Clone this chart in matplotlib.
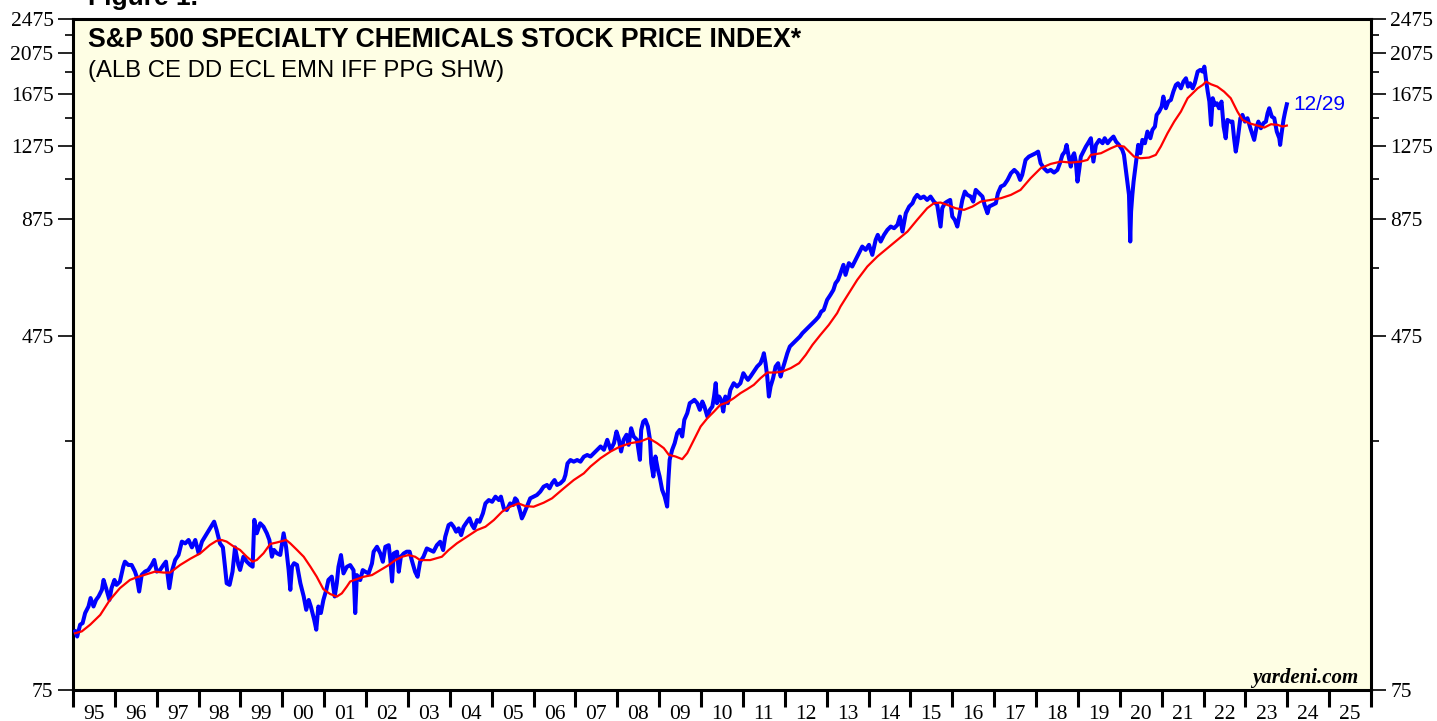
import numpy as np
import matplotlib
matplotlib.use("Agg")
import matplotlib.pyplot as plt
from matplotlib.ticker import FixedLocator, NullFormatter

# S&P 500 specialty chemicals index (daily) -- decimal year, index level
blue_t = [
    1995.05, 1995.10, 1995.17, 1995.23, 1995.29, 1995.37, 1995.42, 1995.49, 1995.55, 1995.61,
    1995.69, 1995.73, 1995.79, 1995.87, 1995.92, 1995.99, 1996.04, 1996.12, 1996.20, 1996.24,
    1996.32, 1996.40, 1996.48, 1996.52, 1996.58, 1996.64, 1996.72, 1996.80, 1996.88, 1996.94,
    1997.00, 1997.08, 1997.16, 1997.22, 1997.30, 1997.36, 1997.44, 1997.52, 1997.60, 1997.68,
    1997.76, 1997.84, 1997.92, 1998.00, 1998.08, 1998.20, 1998.27, 1998.37, 1998.43, 1998.51,
    1998.58, 1998.63, 1998.67, 1998.74, 1998.81, 1998.87, 1998.95, 1998.99, 1999.07, 1999.15,
    1999.23, 1999.29, 1999.33, 1999.39, 1999.47, 1999.55, 1999.63, 1999.69, 1999.75, 1999.80,
    1999.87, 1999.95, 2000.03, 2000.09, 2000.15, 2000.19, 2000.23, 2000.28, 2000.35, 2000.43,
    2000.51, 2000.57, 2000.63, 2000.68, 2000.76, 2000.81, 2000.86, 2000.92, 2000.98, 2001.05,
    2001.10, 2001.18, 2001.25, 2001.30, 2001.34, 2001.40, 2001.46, 2001.54, 2001.62, 2001.70,
    2001.74, 2001.78, 2001.86, 2001.92, 2001.98, 2002.06, 2002.14, 2002.18, 2002.26, 2002.34,
    2002.40, 2002.46, 2002.54, 2002.58, 2002.62, 2002.66, 2002.74, 2002.78, 2002.83, 2002.90,
    2002.97, 2003.04, 2003.09, 2003.17, 2003.23, 2003.29, 2003.37, 2003.45, 2003.53, 2003.61,
    2003.69, 2003.77, 2003.84, 2003.89, 2003.97, 2004.03, 2004.09, 2004.15, 2004.21, 2004.27,
    2004.33, 2004.41, 2004.47, 2004.53, 2004.58, 2004.65, 2004.71, 2004.79, 2004.85, 2004.93,
    2005.01, 2005.09, 2005.17, 2005.22, 2005.29, 2005.36, 2005.44, 2005.51, 2005.56, 2005.60,
    2005.67, 2005.72, 2005.76, 2005.84, 2005.92, 2006.00, 2006.08, 2006.16, 2006.24, 2006.32,
    2006.38, 2006.44, 2006.50, 2006.56, 2006.64, 2006.72, 2006.76, 2006.81, 2006.88, 2006.96,
    2007.04, 2007.12, 2007.20, 2007.28, 2007.36, 2007.44, 2007.52, 2007.60, 2007.68, 2007.76,
    2007.84, 2007.92, 2007.98, 2008.03, 2008.09, 2008.15, 2008.22, 2008.27, 2008.33, 2008.39,
    2008.47, 2008.54, 2008.57, 2008.62, 2008.67, 2008.73, 2008.78, 2008.81, 2008.86, 2008.91,
    2008.97, 2009.01, 2009.07, 2009.13, 2009.19, 2009.22, 2009.25, 2009.31, 2009.37, 2009.43,
    2009.49, 2009.55, 2009.60, 2009.67, 2009.73, 2009.79, 2009.84, 2009.91, 2009.97, 2010.03,
    2010.08, 2010.15, 2010.21, 2010.27, 2010.31, 2010.35, 2010.38, 2010.43, 2010.48, 2010.53,
    2010.58, 2010.64, 2010.70, 2010.78, 2010.86, 2010.94, 2011.01, 2011.06, 2011.12, 2011.18,
    2011.26, 2011.34, 2011.42, 2011.48, 2011.50, 2011.54, 2011.58, 2011.62, 2011.66, 2011.72,
    2011.78, 2011.84, 2011.90, 2011.94, 2011.99, 2012.06, 2012.12, 2012.20, 2012.28, 2012.36,
    2012.42, 2012.50, 2012.58, 2012.66, 2012.74, 2012.81, 2012.87, 2012.93, 2013.01, 2013.09,
    2013.16, 2013.21, 2013.27, 2013.33, 2013.40, 2013.45, 2013.53, 2013.61, 2013.69, 2013.77,
    2013.85, 2013.93, 2014.01, 2014.09, 2014.17, 2014.22, 2014.29, 2014.37, 2014.45, 2014.53,
    2014.61, 2014.69, 2014.75, 2014.81, 2014.89, 2014.97, 2015.05, 2015.10, 2015.16, 2015.24,
    2015.32, 2015.40, 2015.48, 2015.56, 2015.64, 2015.72, 2015.76, 2015.82, 2015.88, 2015.95,
    2016.00, 2016.06, 2016.12, 2016.18, 2016.24, 2016.30, 2016.36, 2016.44, 2016.50, 2016.56,
    2016.64, 2016.72, 2016.77, 2016.84, 2016.88, 2016.96, 2017.04, 2017.09, 2017.16, 2017.24,
    2017.32, 2017.40, 2017.48, 2017.56, 2017.62, 2017.67, 2017.75, 2017.83, 2017.91, 2017.99,
    2018.05, 2018.11, 2018.19, 2018.27, 2018.35, 2018.43, 2018.51, 2018.57, 2018.63, 2018.69,
    2018.73, 2018.78, 2018.83, 2018.87, 2018.91, 2018.95, 2018.99, 2019.03, 2019.07, 2019.13,
    2019.19, 2019.24, 2019.31, 2019.37, 2019.43, 2019.51, 2019.59, 2019.64, 2019.71, 2019.77,
    2019.85, 2019.91, 2019.98, 2020.06, 2020.10, 2020.14, 2020.18, 2020.22, 2020.25, 2020.27,
    2020.30, 2020.33, 2020.37, 2020.41, 2020.44, 2020.49, 2020.54, 2020.60, 2020.66, 2020.73,
    2020.78, 2020.84, 2020.88, 2020.94, 2021.00, 2021.04, 2021.10, 2021.16, 2021.22, 2021.28,
    2021.34, 2021.39, 2021.46, 2021.52, 2021.58, 2021.63, 2021.68, 2021.74, 2021.79, 2021.86,
    2021.92, 2021.98, 2022.02, 2022.06, 2022.10, 2022.14, 2022.18, 2022.22, 2022.27, 2022.32,
    2022.37, 2022.43, 2022.48, 2022.53, 2022.57, 2022.64, 2022.69, 2022.73, 2022.77, 2022.81,
    2022.88, 2022.93, 2022.99, 2023.05, 2023.12, 2023.17, 2023.21, 2023.27, 2023.31, 2023.37,
    2023.43, 2023.49, 2023.53, 2023.57, 2023.63, 2023.69, 2023.75, 2023.81, 2023.83, 2023.86,
    2023.91, 2023.95, 2023.99,
]
blue_v = [
    101.8, 99.1, 105.4, 106.3, 112.0, 115.9, 121.1, 115.9, 119.9, 122.1,
    126.4, 133.1, 127.5, 119.9, 127.5, 133.1, 129.7, 132.0, 142.6, 146.4,
    143.9, 143.9, 139.0, 135.4, 125.3, 136.6, 139.0, 140.2, 143.9, 147.7,
    139.0, 140.2, 143.9, 146.4, 127.5, 139.0, 147.7, 151.6, 162.5, 161.0,
    163.9, 157.7, 163.9, 152.9, 162.5, 169.7, 174.1, 180.3, 172.6, 161.0,
    157.7, 142.6, 130.8, 129.7, 139.0, 157.7, 143.9, 140.2, 150.2, 146.4,
    143.9, 142.6, 182.0, 169.7, 178.8, 175.6, 169.7, 163.9, 150.2, 155.6,
    152.9, 151.6, 169.7, 157.7, 140.2, 126.4, 142.6, 145.2, 143.9, 130.8,
    122.1, 113.9, 119.9, 115.9, 108.2, 102.7, 115.9, 112.0, 119.9, 126.4,
    133.1, 135.4, 122.1, 130.8, 142.5, 151.5, 137.7, 142.5, 143.8, 140.0,
    112.0, 136.5, 133.0, 140.1, 138.9, 137.7, 145.0, 154.2, 158.2, 152.8,
    146.3, 158.2, 159.5, 147.6, 132.0, 152.8, 154.2, 138.9, 150.2, 152.8,
    154.2, 154.2, 147.6, 138.9, 135.3, 146.3, 150.2, 156.8, 155.5, 154.2,
    159.5, 162.4, 155.5, 166.7, 177.1, 178.6, 175.6, 171.1, 174.1, 168.1,
    175.6, 180.2, 183.4, 177.1, 174.1, 181.8, 180.2, 188.3, 198.3, 201.8,
    200.0, 205.4, 201.8, 205.4, 193.2, 191.6, 198.3, 196.6, 203.6, 201.8,
    191.6, 183.4, 186.7, 194.9, 203.6, 205.4, 207.2, 210.9, 216.4, 218.3,
    214.5, 220.2, 224.0, 218.3, 220.2, 224.0, 229.9, 244.3, 248.6, 246.5,
    248.6, 246.5, 252.9, 255.2, 253.2, 257.7, 262.2, 266.8, 262.2, 276.2,
    262.2, 271.4, 288.4, 278.6, 259.9, 276.2, 283.6, 269.1, 293.4, 281.0,
    276.2, 248.9, 290.9, 303.8, 306.5, 296.1, 276.2, 244.6, 228.2, 253.2,
    236.2, 228.2, 212.9, 205.6, 195.1, 224.3, 248.9, 262.2, 271.4, 286.0,
    290.9, 281.0, 306.5, 317.3, 334.3, 337.2, 340.2, 334.3, 322.9, 337.2,
    328.6, 311.8, 322.9, 328.6, 346.1, 371.0, 334.3, 346.1, 340.2, 320.1,
    346.1, 334.3, 358.3, 371.0, 364.6, 371.0, 390.8, 384.1, 377.5, 384.1,
    394.2, 404.6, 411.7, 426.2, 433.7, 411.7, 384.1, 346.1, 364.6, 380.8,
    404.6, 411.7, 384.1, 397.6, 411.7, 433.7, 449.1, 456.9, 464.9, 473.0,
    481.3, 489.7, 498.3, 507.0, 515.9, 524.9, 538.8, 543.5, 572.6, 588.0,
    603.1, 624.4, 635.4, 658.1, 687.4, 652.4, 693.4, 681.4, 705.5, 730.4,
    756.2, 743.2, 762.9, 724.1, 782.9, 803.6, 776.1, 803.6, 824.8, 839.2,
    832.0, 846.5, 884.1, 817.7, 899.6, 931.3, 947.7, 972.7, 989.7, 972.7,
    981.2, 964.2, 981.2, 955.9, 939.5, 839.2, 923.3, 947.7, 955.9, 964.2,
    884.1, 868.9, 839.2, 899.6, 964.2, 1007.0, 989.7, 981.2, 955.9, 1015.8,
    998.3, 981.2, 939.5, 899.6, 931.3, 939.5, 947.7, 998.3, 1033.6, 1042.6,
    1070.1, 1107.9, 1127.3, 1107.9, 1070.1, 1098.3, 1187.6, 1208.3, 1218.8, 1229.4,
    1240.1, 1167.1, 1137.1, 1117.6, 1127.3, 1111.8, 1127.3, 1167.1, 1218.8, 1240.1,
    1284.0, 1208.3, 1147.0, 1208.3, 1229.4, 1177.3, 1060.9, 1127.3, 1208.3, 1240.1,
    1272.8, 1295.3, 1329.7, 1177.4, 1284.3, 1318.2, 1295.5, 1329.7, 1295.5, 1318.2,
    1341.3, 1306.7, 1284.3, 1251.3, 1219.1, 1137.4, 1061.1, 989.9, 776.3, 907.6,
    989.9, 1061.1, 1137.4, 1219.1, 1284.3, 1229.7, 1318.2, 1295.5, 1376.6, 1329.7,
    1388.7, 1413.0, 1501.5, 1527.8, 1568.0, 1651.8, 1554.4, 1609.4, 1623.5, 1695.6,
    1755.1, 1770.4, 1724.9, 1785.9, 1817.3, 1740.0, 1770.4, 1724.9, 1770.4, 1881.6,
    1897.9, 1881.6, 1931.1, 1801.5, 1695.6, 1609.4, 1425.3, 1638.0, 1581.6, 1595.4,
    1554.4, 1609.4, 1413.0, 1329.7, 1463.0, 1450.1, 1450.1, 1329.7, 1240.3, 1306.7,
    1475.8, 1501.5, 1450.1, 1475.8, 1400.7, 1352.9, 1318.2, 1413.0, 1450.1, 1400.7,
    1437.7, 1450.1, 1514.6, 1554.4, 1488.7, 1475.8, 1376.6, 1329.7, 1284.3, 1352.9,
    1463.0, 1527.8, 1587.0,
]

# 52-week moving average
red_t = [
    1995.05, 1995.21, 1995.41, 1995.65, 1995.88, 1996.12, 1996.36, 1996.52, 1996.76, 1996.96,
    1997.16, 1997.32, 1997.56, 1997.80, 1998.04, 1998.27, 1998.43, 1998.55, 1998.67, 1998.83,
    1998.99, 1999.15, 1999.29, 1999.39, 1999.55, 1999.71, 1999.87, 2000.09, 2000.19, 2000.35,
    2000.51, 2000.67, 2000.82, 2000.98, 2001.14, 2001.30, 2001.42, 2001.54, 2001.62, 2001.94,
    2002.14, 2002.34, 2002.54, 2002.70, 2002.86, 2003.01, 2003.17, 2003.29, 2003.53, 2003.81,
    2003.97, 2004.17, 2004.41, 2004.65, 2004.85, 2005.05, 2005.25, 2005.44, 2005.64, 2005.80,
    2006.00, 2006.24, 2006.44, 2006.72, 2006.96, 2007.20, 2007.36, 2007.60, 2007.84, 2008.07,
    2008.31, 2008.55, 2008.75, 2008.95, 2009.11, 2009.23, 2009.39, 2009.55, 2009.67, 2009.83,
    2009.99, 2010.15, 2010.31, 2010.46, 2010.62, 2010.78, 2010.94, 2011.10, 2011.26, 2011.42,
    2011.58, 2011.78, 2011.94, 2012.14, 2012.34, 2012.50, 2012.66, 2012.85, 2013.05, 2013.25,
    2013.33, 2013.53, 2013.73, 2013.97, 2014.21, 2014.45, 2014.69, 2014.93, 2015.16, 2015.40,
    2015.56, 2015.72, 2015.88, 2016.08, 2016.28, 2016.48, 2016.68, 2016.92, 2017.16, 2017.40,
    2017.63, 2017.87, 2018.11, 2018.35, 2018.59, 2018.83, 2019.07, 2019.23, 2019.31, 2019.55,
    2019.79, 2019.94, 2020.10, 2020.22, 2020.34, 2020.50, 2020.70, 2020.86, 2020.98, 2021.14,
    2021.30, 2021.46, 2021.62, 2021.74, 2021.86, 2021.98, 2022.06, 2022.18, 2022.33, 2022.49,
    2022.65, 2022.81, 2022.93, 2023.09, 2023.29, 2023.45, 2023.61, 2023.77, 2023.89, 2023.99,
]
red_v = [
    100.8, 101.8, 105.4, 110.9, 119.9, 127.5, 133.1, 134.9, 137.1, 139.0,
    138.3, 138.3, 143.9, 148.6, 152.9, 159.7, 163.2, 163.9, 162.5, 158.6,
    155.6, 150.2, 146.4, 147.7, 152.9, 160.5, 161.8, 163.9, 161.0, 155.6,
    150.2, 142.6, 135.4, 126.8, 123.7, 122.0, 124.1, 128.6, 132.0, 135.3,
    136.5, 140.1, 143.8, 147.6, 150.2, 151.5, 150.2, 147.6, 147.6, 150.2,
    155.5, 161.1, 166.7, 172.6, 175.6, 181.8, 190.0, 194.9, 198.3, 195.6,
    194.9, 199.0, 203.6, 214.5, 224.0, 231.9, 240.4, 251.0, 259.9, 266.8,
    271.4, 273.8, 278.6, 271.4, 264.5, 255.4, 253.2, 249.7, 257.7, 276.2,
    296.1, 309.1, 320.1, 331.4, 335.5, 343.1, 352.2, 359.6, 367.8, 380.8,
    392.2, 392.2, 394.2, 401.2, 411.7, 430.0, 453.0, 477.1, 502.6, 534.5,
    553.3, 593.0, 635.7, 681.4, 717.8, 749.7, 782.9, 817.7, 868.9, 923.3,
    947.7, 951.0, 939.5, 923.3, 915.4, 931.3, 955.9, 964.2, 972.7, 989.7,
    1015.8, 1079.4, 1137.1, 1163.1, 1177.3, 1171.2, 1177.3, 1187.6, 1219.1, 1229.7,
    1262.2, 1279.9, 1273.3, 1240.3, 1208.6, 1198.1, 1202.3, 1219.1, 1273.3, 1364.7,
    1450.1, 1527.8, 1638.0, 1680.7, 1724.9, 1755.1, 1785.9, 1761.2, 1740.0, 1695.6,
    1638.0, 1527.8, 1463.0, 1437.7, 1420.4, 1405.6, 1430.3, 1425.3, 1413.0, 1420.4,
]

y_major = [75, 475, 875, 1275, 1675, 2075, 2475]
y_minor = [275, 675, 1075, 1475, 1875, 2275]
years = list(range(1995, 2026))
year_labels = [f"{y % 100:02d}" for y in years]

title = "S&P 500 SPECIALTY CHEMICALS STOCK PRICE INDEX*"
subtitle = "(ALB CE DD ECL EMN IFF PPG SHW)"
last_label = "12/29"

serif = "Liberation Serif"
sans = "Liberation Sans"

fig = plt.figure(figsize=(14.37, 7.21), dpi=100)
ax = fig.add_axes([73 / 1437, 31 / 721, 1298 / 1437, 671 / 721])
ax.set_facecolor("#fefee4")

ax.plot(blue_t, blue_v, color="#0000ff", lw=2.9, solid_joinstyle="round", zorder=3)
ax.plot(red_t, red_v, color="#ff0000", lw=1.6, zorder=4)

ax.set_yscale("log")
ax.set_ylim(75, 2475)
ax.set_xlim(1995, 2026)

ax.yaxis.set_major_locator(FixedLocator(y_major))
ax.yaxis.set_minor_locator(FixedLocator(y_minor))
ax.yaxis.set_major_formatter(matplotlib.ticker.FixedFormatter([str(v) for v in y_major]))
ax.yaxis.set_minor_formatter(NullFormatter())
ax.tick_params(axis="y", which="major", direction="out", length=11, width=1.2,
               left=True, right=True, labelleft=True, labelright=True, pad=3,
               labelsize=15.5)
ax.tick_params(axis="y", which="minor", direction="out", length=5.5, width=1.2,
               left=True, right=True)

ax.xaxis.set_major_locator(FixedLocator(years + [2026]))
ax.xaxis.set_major_formatter(NullFormatter())
ax.xaxis.set_minor_locator(FixedLocator([y + 0.5 for y in years]))
ax.xaxis.set_minor_formatter(matplotlib.ticker.FixedFormatter(year_labels))
ax.tick_params(axis="x", which="major", direction="out", length=12, width=2.2)
ax.tick_params(axis="x", which="minor", length=0, pad=10.5, labelsize=15.5)

for lab in ax.get_yticklabels() + ax.get_xticklabels(which="minor"):
    lab.set_fontfamily(serif)

for s in ax.spines.values():
    s.set_linewidth(2.2)

ax.text(0.0116, 0.958, title, transform=ax.transAxes, fontsize=19.2,
        fontweight="bold", fontfamily=sans, va="baseline", ha="left")
ax.text(0.0116, 0.9136, subtitle, transform=ax.transAxes, fontsize=17.2,
        fontfamily=sans, va="baseline", ha="left")
ax.text(0.990, 0.0104, "yardeni.com", transform=ax.transAxes, fontsize=15,
        fontweight="bold", fontstyle="italic", fontfamily=serif,
        va="baseline", ha="right")

ax.annotate(last_label, xy=(blue_t[-1], blue_v[-1]), xytext=(5, 0),
            textcoords="offset points", color="#0000ff", fontsize=15,
            fontfamily=sans, va="center", ha="left")

fig.text(88 / 1437, 1 - 5 / 721, "Figure 1.", fontsize=19, fontweight="bold",
         fontfamily=sans, va="baseline", ha="left")

fig.savefig("out.png", dpi=100)
